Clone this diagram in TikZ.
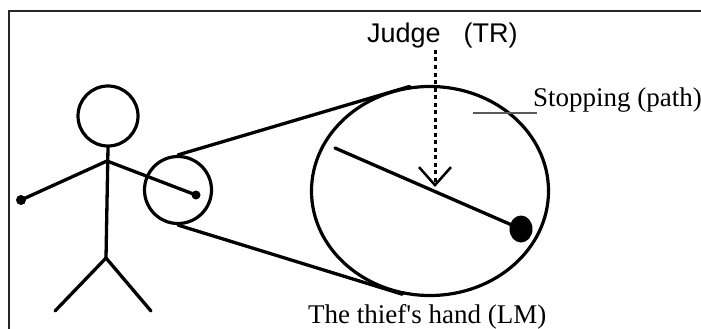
\documentclass[tikz,border=0pt]{standalone}
\usepackage{fontspec}
\setmainfont{Liberation Serif}
\newfontfamily\headfont{Liberation Sans}
\usetikzlibrary{arrows.meta,shapes.geometric}

\begin{document}
\begin{tikzpicture}[x=1pt,y=-1pt,
		stroke/.style={line width=3.3pt, line cap=round, line join=round},
		ring/.style={draw, circle, line width=3.2pt, inner sep=0pt},
		label/.style={anchor=base west, inner sep=0pt, font=\fontsize{27}{30}\selectfont}]
			      \useasboundingbox (0,0) rectangle (701,329);
			      % Rahmen oben und links
			      \draw[line width=1.8pt, black!85] (701,11) -- (9,11) -- (9,329);
			      % Strichmaennchen
			      \node[ring, minimum size=60pt] (head) at (108,116) {};
			      \coordinate (neck) at (head.south);
			      \coordinate (shoulder) at (107,161);
			      \coordinate (hip) at (106,258);
			      \coordinate (lhand) at (21,200);
			      \coordinate (rhand) at (196,195);
			      \draw[stroke] (neck) -- (hip);
			      \draw[stroke] (lhand) -- (shoulder) -- (rhand);
			      \draw[stroke] (55,311) -- (hip) -- (151,311);
			      \fill (lhand) circle (5pt);
			      \fill (rhand) circle (4.5pt);
			      % Lupe auf die Hand
			      \node[ring, minimum size=67pt] (lens) at (178,190) {};
			      \node[draw, ellipse, line width=3.2pt, inner sep=0pt, minimum width=237pt, minimum height=209pt] (big) at (430,191) {};
			      \draw[stroke] (lens.north) -- (big.101);
			      \draw[stroke] (lens.south) -- (big.255);
			      % Hand vergroessert
			      \coordinate (arm) at (335,148);
			      \coordinate (fist) at (521,229);
			      \draw[stroke] (arm) -- (fist);
			      \fill (fist) ellipse (11.5pt and 13.5pt);
			      % Beschriftung
			      \node[label, font=\headfont\fontsize{27}{30}\selectfont] (judge) at (367,43) {Judge\hspace{0.85em}(TR)};
			      \coordinate (tip) at (435,187);
			      \draw[line width=3pt, dash pattern=on 4pt off 3.5pt, -{Straight Barb[length=18pt,width=32pt,line width=2.5pt]}] (435,50) -- (tip);
			      \node[label] (path) at (533,106) {Stopping (path)};
			      \draw[line width=1.6pt, black!65] (473,113) -- (537,113);
			      \node[label] (hand) at (308,323) {The thief\textquotesingle s hand (LM)};
		      \end{tikzpicture}
\end{document}
